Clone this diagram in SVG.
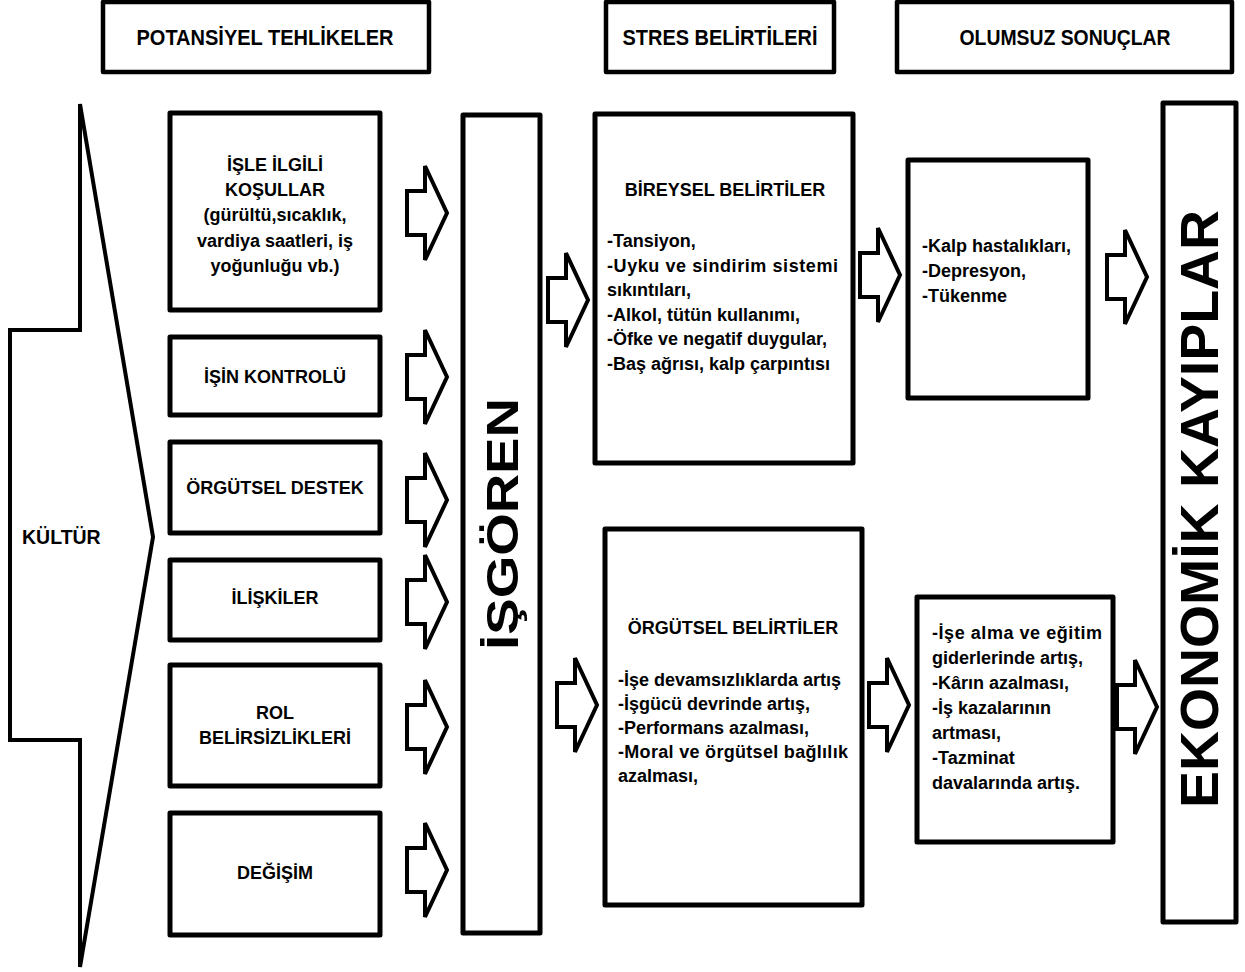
<svg xmlns="http://www.w3.org/2000/svg" width="1245" height="972" viewBox="0 0 1245 972">
  <style>
    .box { fill: #fff; stroke: #000; stroke-width: 5; stroke-linejoin: round; }
    .hdr { fill: #fff; stroke: #000; stroke-width: 4.5; stroke-linejoin: round; }
    .arw { fill: #fff; stroke: #000; stroke-width: 4; stroke-linejoin: miter; }
    text { font-family: "Liberation Sans", Arial, sans-serif; font-weight: bold; fill: #000; }
    .t18 { font-size: 18px; }
    .c { text-anchor: middle; }
    .h { font-size: 22px; text-anchor: middle; }
  </style>
  <defs>
    <!-- hollow block arrow, origin at shaft-left / centre line -->
    <path id="blk" d="M0,-22 L18,-22 L18,-47 L40,0 L18,47 L18,22 L0,22 Z"/>
  </defs>

  <!-- column headers -->
  <g id="hdr-potansiyel">
    <rect class="hdr" x="103" y="2" width="326" height="70"/>
    <text class="h" x="265" y="45" textLength="257" lengthAdjust="spacingAndGlyphs">POTANSİYEL TEHLİKELER</text>
  </g>
  <g id="hdr-stres">
    <rect class="hdr" x="606" y="2" width="228" height="70"/>
    <text class="h" x="720" y="45" textLength="195" lengthAdjust="spacingAndGlyphs">STRES BELİRTİLERİ</text>
  </g>
  <g id="hdr-olumsuz">
    <rect class="hdr" x="897" y="2" width="335" height="70"/>
    <text class="h" x="1065" y="45" textLength="211" lengthAdjust="spacingAndGlyphs">OLUMSUZ SONUÇLAR</text>
  </g>

  <!-- culture arrow spanning the whole left side -->
  <g id="kultur">
    <path class="arw" d="M80,104 L153,537 L80,967 L80,740 L10,740 L10,330 L80,330 Z"/>
    <text x="22" y="544" font-size="19.5">KÜLTÜR</text>
  </g>

  <!-- potential hazards -->
  <g id="isle-ilgili">
    <rect class="box" x="170" y="113" width="210" height="197"/>
    <text class="t18 c" x="275" y="171">İŞLE İLGİLİ</text>
    <text class="t18 c" x="275" y="196">KOŞULLAR</text>
    <text class="t18 c" x="275" y="221">(gürültü,sıcaklık,</text>
    <text class="t18 c" x="275" y="247">vardiya saatleri, iş</text>
    <text class="t18 c" x="275" y="272">yoğunluğu vb.)</text>
  </g>
  <g id="isin-kontrolu">
    <rect class="box" x="170" y="337" width="210" height="78"/>
    <text class="t18 c" x="275" y="383">İŞİN KONTROLÜ</text>
  </g>
  <g id="orgutsel-destek">
    <rect class="box" x="170" y="442" width="210" height="91"/>
    <text class="t18 c" x="275" y="494">ÖRGÜTSEL DESTEK</text>
  </g>
  <g id="iliskiler">
    <rect class="box" x="170" y="560" width="210" height="80"/>
    <text class="t18 c" x="275" y="604">İLİŞKİLER</text>
  </g>
  <g id="rol">
    <rect class="box" x="170" y="665" width="210" height="121"/>
    <text class="t18 c" x="275" y="719">ROL</text>
    <text class="t18 c" x="275" y="744">BELİRSİZLİKLERİ</text>
  </g>
  <g id="degisim">
    <rect class="box" x="170" y="813" width="210" height="122"/>
    <text class="t18 c" x="275" y="879">DEĞİŞİM</text>
  </g>

  <!-- employee -->
  <g id="isgoren">
    <rect class="box" x="463" y="115" width="77" height="818"/>
    <text transform="translate(518,524) rotate(-90)" font-size="44" text-anchor="middle" textLength="252" lengthAdjust="spacingAndGlyphs">İŞGÖREN</text>
  </g>

  <!-- stress symptoms -->
  <g id="bireysel">
    <rect class="box" x="595" y="114" width="258" height="349"/>
    <text class="t18 c" x="725" y="196">BİREYSEL BELİRTİLER</text>
    <text class="t18" x="607" y="247">-Tansiyon,</text>
    <text class="t18" x="607" y="271.5" textLength="231">-Uyku ve sindirim sistemi</text>
    <text class="t18" x="607" y="296">sıkıntıları,</text>
    <text class="t18" x="607" y="320.5">-Alkol, tütün kullanımı,</text>
    <text class="t18" x="607" y="345">-Öfke ve negatif duygular,</text>
    <text class="t18" x="607" y="369.5">-Baş ağrısı, kalp çarpıntısı</text>
  </g>
  <g id="orgutsel-belirtiler">
    <rect class="box" x="605" y="529" width="257" height="376"/>
    <text class="t18 c" x="733" y="634">ÖRGÜTSEL BELİRTİLER</text>
    <text class="t18" x="618" y="686">-İşe devamsızlıklarda artış</text>
    <text class="t18" x="618" y="710">-İşgücü devrinde artış,</text>
    <text class="t18" x="618" y="734">-Performans azalması,</text>
    <text class="t18" x="618" y="758" textLength="230">-Moral ve örgütsel bağlılık</text>
    <text class="t18" x="618" y="782">azalması,</text>
  </g>

  <!-- negative outcomes -->
  <g id="bireysel-sonuclar">
    <rect class="box" x="908" y="160" width="180" height="238"/>
    <text class="t18" x="922" y="252">-Kalp hastalıkları,</text>
    <text class="t18" x="922" y="277">-Depresyon,</text>
    <text class="t18" x="922" y="302">-Tükenme</text>
  </g>
  <g id="orgutsel-sonuclar">
    <rect class="box" x="917" y="597" width="196" height="245"/>
    <text class="t18" x="932" y="639" textLength="170">-İşe alma ve eğitim</text>
    <text class="t18" x="932" y="664">giderlerinde artış,</text>
    <text class="t18" x="932" y="689">-Kârın azalması,</text>
    <text class="t18" x="932" y="714">-İş kazalarının</text>
    <text class="t18" x="932" y="739">artması,</text>
    <text class="t18" x="932" y="764">-Tazminat</text>
    <text class="t18" x="932" y="789">davalarında artış.</text>
  </g>

  <!-- economic losses -->
  <g id="ekonomik-kayiplar">
    <rect class="box" x="1163" y="103" width="73" height="819"/>
    <text transform="translate(1218,509) rotate(-90)" font-size="53" text-anchor="middle" textLength="598" lengthAdjust="spacingAndGlyphs">EKONOMİK KAYIPLAR</text>
  </g>

  <!-- connectors: hollow block arrows -->
  <g id="connectors">
    <use href="#blk" class="arw" x="407" y="213"/>
    <use href="#blk" class="arw" x="407" y="377"/>
    <use href="#blk" class="arw" x="407" y="500"/>
    <use href="#blk" class="arw" x="407" y="602"/>
    <use href="#blk" class="arw" x="407" y="727"/>
    <use href="#blk" class="arw" x="407" y="870"/>
    <use href="#blk" class="arw" x="548" y="300"/>
    <use href="#blk" class="arw" x="557" y="705"/>
    <use href="#blk" class="arw" x="860" y="275"/>
    <use href="#blk" class="arw" x="869" y="705"/>
    <use href="#blk" class="arw" x="1107" y="277"/>
    <use href="#blk" class="arw" x="1117" y="707"/>
  </g>
</svg>
